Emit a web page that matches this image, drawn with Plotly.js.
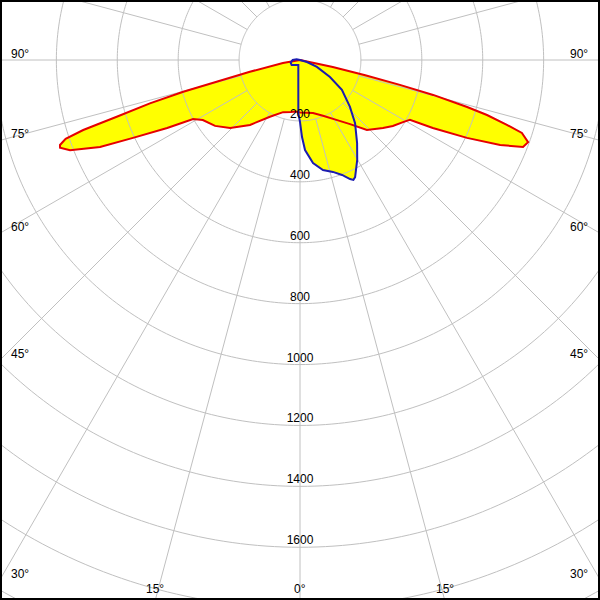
<!DOCTYPE html>
<html><head><meta charset="utf-8">
<script src="https://cdn.plot.ly/plotly-3.0.1.min.js"></script>
<style>
html,body{margin:0;padding:0;width:600px;height:600px;overflow:hidden;background:#fff;}
#wrap{position:relative;width:600px;height:600px;overflow:hidden;}
#chart{position:absolute;left:-370px;top:-610px;width:1340px;height:1340px;}
</style></head><body>
<div id="wrap"><div id="chart"></div></div>
<script>
// Luminous intensity distribution (cd/klm), gamma in degrees
// C0 plane (right half of the red curve)
const C0_GAMMA = [0, 13.8, 22.4, 31.7, 38, 43.7, 50.7, 54.6, 58.9, 61.4, 62.9, 65, 67, 68.7, 70.2, 71.8, 72.6, 73.6, 74.3, 75.3, 76, 76.8, 78, 90];
const C0_I     = [172, 179, 198, 232, 267, 318, 352, 374, 395, 411, 490, 605, 714, 786, 796, 767, 712, 640, 570, 452, 338, 220, 110, 0];
// C180 plane (left half of the red curve)
const C180_GAMMA = [0, 5, 10, 18, 27.9, 37.6, 45.8, 52.2, 58.3, 61.1, 62.9, 65, 66.5, 68.6, 69.9, 70.5, 71.4, 72.1, 72.8, 73.9, 74.8, 75.4, 76.8, 80, 90];
const C180_I     = [172, 170, 173, 180, 211, 269, 320, 353, 375, 401, 490, 605, 716, 811, 839, 836, 812, 748, 630, 513, 397, 283, 169, 57, 0];
// C90 plane (right half of the blue curve)
const C90_GAMMA = [0, 1.5, 3.2, 7.2, 11.8, 16.4, 20.1, 22.8, 24, 25.2, 29.8, 34.5, 41.1, 46.8, 54.5, 60.5, 67.6, 74, 90];
const C90_I     = [203, 253, 296, 341, 369, 383, 402, 424, 431, 425, 378, 331, 275, 225, 169, 113, 60, 24, 0];
// C270 plane (left half of the blue curve)
const C270_GAMMA = [0, 1.8, 3.2, 9.6, 18.8, 40, 59, 74, 90, 102, 180];
const C270_I     = [203, 175, 98, 33, 17, 21, 32, 32, 24, 11, 0];

// Grid / ticks
const RING_VALUES = [200, 400, 600, 800, 1000, 1200, 1400, 1600, 1800, 2000];
const RING_LABEL_VALUES = [200, 400, 600, 800, 1000, 1200, 1400, 1600];
const RING_LABELS = ['200', '400', '600', '800', '1000', '1200', '1400', '1600'];
const SPOKE_ANGLES = [0,15,30,45,60,75,90,105,120,135,150,165,180,195,210,225,240,255,270,285,300,315,330,345];
const ANGLE_LABEL_VALUES = [0, 15, 30, 45, 60, 75, 90];
const R_MAX = 2200;

// geometry of the (large) plot div relative to the 600x600 window
const S = 1340, LEFT = -370, TOP = -610;
const CX = LEFT + S/2, CY = TOP + S/2;     // pole position in window px
function px2x(X){ return (X - LEFT) / S; }
function px2y(Y){ return 1 - (Y - TOP) / S; }

const FONT = {family: 'Liberation Sans, Arial, sans-serif', size: 12, color: '#000'};
const GRID = '#c0c0c0';

// curves
const redTheta = C180_GAMMA.slice().reverse().map(g => -g).concat(C0_GAMMA.slice(1));
const redR     = C180_I.slice().reverse().concat(C0_I.slice(1));
const blueTheta = C270_GAMMA.slice().reverse().map(g => -g).concat(C90_GAMMA.slice(1));
const blueR     = C270_I.slice().reverse().concat(C90_I.slice(1));

// grid traces
const ringT = [], ringR = [];
RING_VALUES.forEach(v => { for (let a = 0; a <= 360; a += 1) { ringT.push(a); ringR.push(v); } ringT.push(null); ringR.push(null); });
const spokeT = [], spokeR = [];
SPOKE_ANGLES.forEach(a => { spokeT.push(a, a, null); spokeR.push(RING_VALUES[0], R_MAX, null); });

const traces = [
  {type:'scatterpolar', mode:'lines', theta:redTheta, r:redR, fill:'toself', fillcolor:'#ffff00', line:{width:0, color:'rgba(0,0,0,0)'}, hoverinfo:'skip'},
  {type:'scatterpolar', mode:'lines', theta:blueTheta, r:blueR, fill:'toself', fillcolor:'#ffff00', line:{width:0, color:'rgba(0,0,0,0)'}, hoverinfo:'skip'},
  {type:'scatterpolar', mode:'lines', theta:ringT, r:ringR, line:{color:GRID, width:1}, hoverinfo:'skip'},
  {type:'scatterpolar', mode:'lines', theta:spokeT, r:spokeR, line:{color:GRID, width:1}, hoverinfo:'skip'},
  {type:'scatterpolar', mode:'lines', theta:redTheta, r:redR, line:{color:'#e60000', width:2}, name:'C0-C180'},
  {type:'scatterpolar', mode:'lines', theta:blueTheta, r:blueR, line:{color:'#1c1cb0', width:2}, name:'C90-C270'},
  {type:'scatterpolar', mode:'text', theta:RING_LABEL_VALUES.map(() => 0), r:RING_LABEL_VALUES, text:RING_LABELS, textposition:'top center', textfont:FONT, cliponaxis:false, hoverinfo:'skip'}
];

// angle labels at the window border
const annotations = [];
ANGLE_LABEL_VALUES.forEach(a => {
  const rad = a * Math.PI / 180;
  const txt = a + '°';
  const distSide = (a === 0) ? Infinity : CX / Math.sin(rad);
  const distBottom = (a === 90) ? Infinity : (600 - CY) / Math.cos(rad);
  if (distSide <= distBottom) {
    const hitY = CY + distSide * Math.cos(rad);
    annotations.push({xref:'paper', yref:'paper', x:px2x(9), y:px2y(hitY - 6), text:txt, showarrow:false, xanchor:'left', yanchor:'middle', font:FONT});
    annotations.push({xref:'paper', yref:'paper', x:px2x(590), y:px2y(hitY - 6), text:txt, showarrow:false, xanchor:'right', yanchor:'middle', font:FONT});
  } else {
    const dx = (600 - CY) * Math.tan(rad);
    const sides = (a === 0) ? [0] : [-dx, dx];
    sides.forEach(d => annotations.push({xref:'paper', yref:'paper', x:px2x(CX + d), y:px2y(589), text:txt, showarrow:false, xanchor:'center', yanchor:'middle', font:FONT}));
  }
});

const layout = {
  width:S, height:S, margin:{l:0, r:0, t:0, b:0, pad:0}, autosize:false,
  paper_bgcolor:'#ffffff', showlegend:false,
  polar:{
    domain:{x:[0,1], y:[0,1]}, bgcolor:'#ffffff',
    radialaxis:{visible:false, range:[0, R_MAX]},
    angularaxis:{visible:false, rotation:-90, direction:'counterclockwise'}
  },
  annotations: annotations,
  shapes:[{type:'rect', xref:'paper', yref:'paper', x0:px2x(0), x1:px2x(600), y0:px2y(0), y1:px2y(600), line:{color:'#000', width:4}}]
};

Plotly.newPlot('chart', traces, layout, {staticPlot:true, displayModeBar:false});
</script>
</body></html>
